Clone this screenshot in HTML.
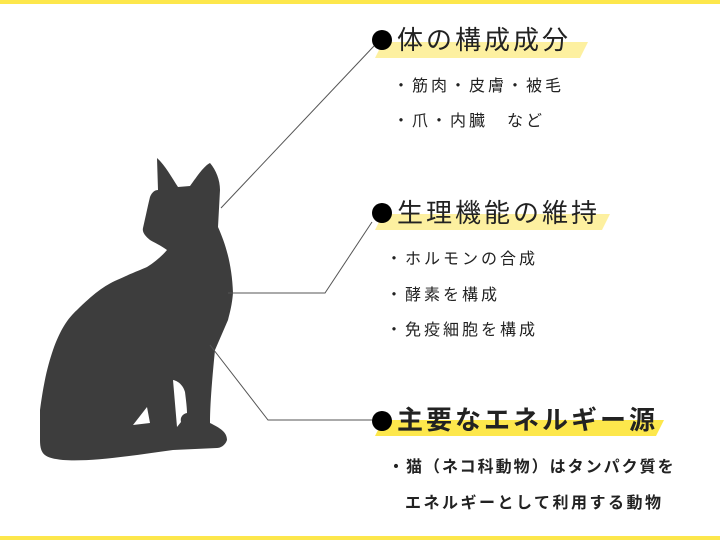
<!DOCTYPE html>
<html><head><meta charset="utf-8"><style>
body{margin:0;width:720px;height:540px;background:#fff;position:relative;overflow:hidden;font-family:"Liberation Sans","Noto Sans CJK JP",sans-serif;color:#222}
.t{position:absolute;white-space:nowrap}
.h{font-size:26px;line-height:30px;letter-spacing:3px}
.s{font-size:16px;line-height:20px;letter-spacing:3px}
</style></head><body>
<svg width="720" height="540" style="position:absolute;left:0;top:0">
<rect x="0" y="0" width="720" height="4" fill="#fde74c"/>
<rect x="0" y="536" width="720" height="4" fill="#fde74c"/>
<polygon points="383,42 588,42 580,58 375,58" fill="#fdf0a0"/>
<polygon points="383,214 610,214 602,230 375,230" fill="#fdf0a0"/>
<polygon points="383,420 664,420 656,436 375,436" fill="#fde74c"/>
<path d="M157,158 C165,165 172,178 178,187 L190,186 C198,175 204,166 210,163 C216,170 220,180 220,190 L218,227 C226,245 232,265 233,293 C232,305 230,312 228,320 L215,350 C212,380 210,405 210,423 C220,428 227,432 227,440 C225,446 220,448 217,448 L173,450 C130,456 90,462 63,460 C45,458 40,455 40,440 L40,410 C44,380 48,365 53,350 C60,330 68,318 77,310 C92,295 105,285 117,280 C130,274 140,270 147,267 C155,262 162,256 167,250 C160,245 155,243 150,240 C145,236 142,232 143,228 C146,215 148,205 150,197 C152,192 155,190 158,190 Z" fill="#3d3d3d"/>
<polygon points="133,425 147,407 150,423" fill="#fff"/>
<path d="M173,380 C178,381 183,385 185,392 C186,400 187,408 187,413 C182,414 180,418 181,422 L177,427 Z" fill="#fff"/>
<g stroke="#555" stroke-width="1" fill="none">
<line x1="221" y1="208" x2="374" y2="46"/>
<polyline points="228,293 325,293 372,222"/>
<polyline points="210,345 268,420 372,420"/>
</g>
<circle cx="382" cy="40" r="10" fill="#000"/>
<circle cx="382" cy="213" r="10" fill="#000"/>
<circle cx="382" cy="421" r="10" fill="#000"/>
</svg>
<div class="t h" style="left:397px;top:25px">体の構成成分</div>
<div class="t s" style="left:393px;top:77px">・筋肉・皮膚・被毛</div>
<div class="t s" style="left:393px;top:112px">・爪・内臓　など</div>
<div class="t h" style="left:397px;top:198px">生理機能の維持</div>
<div class="t s" style="left:386px;top:250px">・ホルモンの合成</div>
<div class="t s" style="left:386px;top:286px">・酵素を構成</div>
<div class="t s" style="left:386px;top:321px">・免疫細胞を構成</div>
<div class="t h" style="left:397px;top:405px;font-weight:bold">主要なエネルギー源</div>
<div class="t s" style="left:388px;top:458px;font-weight:bold;letter-spacing:2px">・猫（ネコ科動物）はタンパク質を</div>
<div class="t s" style="left:405px;top:494px;font-weight:bold;letter-spacing:2.5px">エネルギーとして利用する動物</div>
</body></html>
